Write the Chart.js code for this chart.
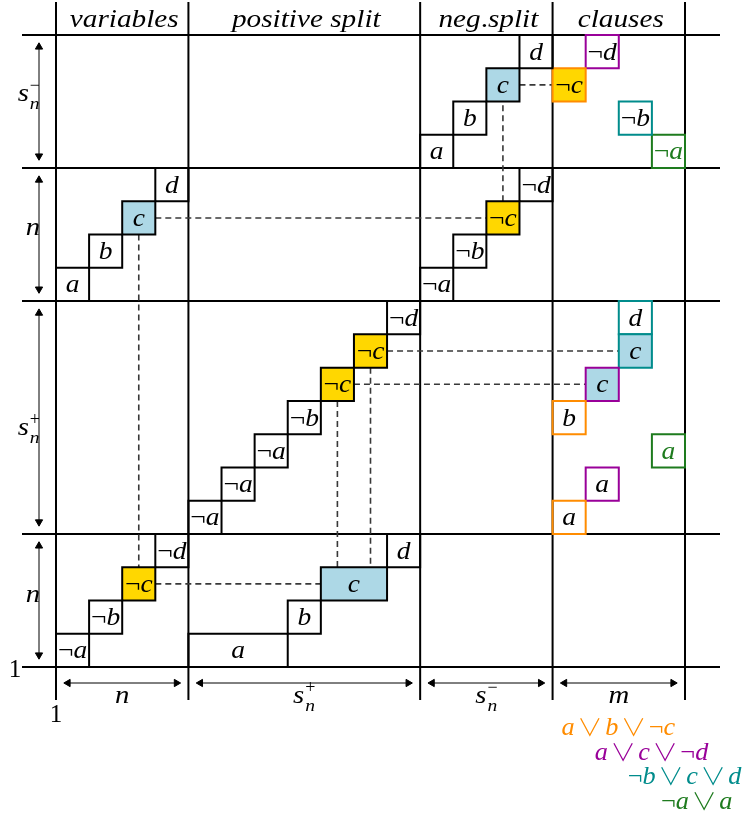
<!DOCTYPE html>
<html>
<head>
<meta charset="utf-8">
<script src="https://cdn.jsdelivr.net/npm/chart.js@4.4.1/dist/chart.umd.min.js"></script>
<style>
html, body { margin: 0; padding: 0; background: #ffffff; }
#wrap { width: 745px; height: 815px; }
</style>
</head>
<body>
<div id="wrap"><canvas id="c" width="745" height="815"></canvas></div>
<script>
// ---------------- data ----------------
const colEdges = [0, 4, 11, 15, 19];
const rowEdges = [0, 4, 11, 15, 19];
const colHeaders = ['variables', 'positive split', 'neg.split', 'clauses'];
const colSizeLabels = [['n', '', ''], ['s', 'n', '+'], ['s', 'n', '−'], ['m', '', '']];
const rowSizeLabels = [['n', '', ''], ['s', 'n', '+'], ['n', '', ''], ['s', 'n', '−']]; // bottom to top

const boxX = [0, 1, 2, 3, 4, 7, 8, 10, 4, 5, 6, 7, 8, 9, 10, 0, 1, 2, 3, 11, 12, 13, 14, 11, 12, 13, 14,
              15, 16, 17, 18, 15, 16, 18, 15, 16, 17, 17];
const boxY = [0, 1, 2, 3, 0, 1, 2, 3, 4, 5, 6, 7, 8, 9, 10, 11, 12, 13, 14, 11, 12, 13, 14, 15, 16, 17, 18,
              17, 18, 16, 15, 4, 5, 6, 7, 8, 9, 10];
const boxW = [1, 1, 1, 1, 3, 1, 2, 1, 1, 1, 1, 1, 1, 1, 1, 1, 1, 1, 1, 1, 1, 1, 1, 1, 1, 1, 1,
              1, 1, 1, 1, 1, 1, 1, 1, 1, 1, 1];
const boxLabel = ['¬a', '¬b', '¬c', '¬d', 'a', 'b', 'c', 'd', '¬a', '¬a', '¬a', '¬b', '¬c', '¬c', '¬d',
                  'a', 'b', 'c', 'd', '¬a', '¬b', '¬c', '¬d', 'a', 'b', 'c', 'd',
                  '¬c', '¬d', '¬b', '¬a', 'a', 'a', 'a', 'b', 'c', 'c', 'd'];
const boxFill = ['', '', 'gold', '', '', '', 'blue', '', '', '', '', '', 'gold', 'gold', '',
                 '', '', 'blue', '', '', '', 'gold', '', '', '', 'blue', '',
                 'gold', '', '', '', '', '', '', '', 'blue', 'blue', ''];
const boxClause = [-1, -1, -1, -1, -1, -1, -1, -1, -1, -1, -1, -1, -1, -1, -1, -1, -1, -1, -1, -1, -1, -1, -1, -1, -1, -1, -1,
                   0, 1, 2, 3, 0, 1, 3, 0, 1, 2, 2];

const clauseTexts = ['a∨b∨¬c', 'a∨c∨¬d', '¬b∨c∨d', '¬a∨a'];

const dashX1 = [3, 2.5, 3, 13.5, 14, 10, 9, 8.5, 9.5];
const dashY1 = [13.5, 13, 2.5, 14, 17.5, 9.5, 8.5, 8, 9];
const dashX2 = [13, 2.5, 8, 13.5, 15, 17, 16, 8.5, 9.5];
const dashY2 = [13.5, 3, 2.5, 17, 17.5, 9.5, 8.5, 3, 3];

// ---------------- styles ----------------
const clauseColors = ['#FF8C00', '#990099', '#008C8C', '#1E7B1E'];
const fillColors = { gold: '#FFD700', blue: '#ADD8E6' };
const FONT = '"Liberation Serif", serif';
const OR_FONT = '"Noto Sans CJK JP", "DejaVu Sans", sans-serif';

// pixel frame: x=0 -> 56px, x=19 -> 685px ; y=0 -> 667px, y=19 -> 35px
const UX = (685 - 56) / 19, UY = (667 - 35) / 19;
const X_MIN = -56 / UX, X_MAX = (745 - 56) / UX;
const Y_MAX = 667 / UY, Y_MIN = -(815 - 667) / UY;

// ---------------- datasets ----------------
const datasets = [];
// grid lines
rowEdges.forEach(r => datasets.push({
  data: [{ x: -34 / UX, y: r }, { x: (720 - 56) / UX, y: r }],
  borderColor: '#000', borderWidth: 2, pointRadius: 0, fill: false, order: 10
}));
colEdges.forEach(c => datasets.push({
  data: [{ x: c, y: 665 / UY }, { x: c, y: -33 / UY }],
  borderColor: '#000', borderWidth: 2, pointRadius: 0, fill: false, order: 10
}));
// size arrows (rows)
for (let i = 0; i < 4; i++) {
  const ax = -17 / UX, ins = 12 / UY;
  datasets.push({
    data: [{ x: ax, y: rowEdges[i] + ins }, { x: ax, y: rowEdges[i + 1] - ins }],
    borderColor: '#000', borderWidth: 1, pointStyle: 'triangle', pointRadius: 4.2,
    pointRotation: [180, 0], pointBackgroundColor: '#000', pointBorderColor: '#000', pointBorderWidth: 1,
    fill: false, order: 10
  });
}
// size arrows (columns)
for (let i = 0; i < 4; i++) {
  const ay = -16 / UY, ins = 12 / UX;
  datasets.push({
    data: [{ x: colEdges[i] + ins, y: ay }, { x: colEdges[i + 1] - ins, y: ay }],
    borderColor: '#000', borderWidth: 1, pointStyle: 'triangle', pointRadius: 4.2,
    pointRotation: [270, 90], pointBackgroundColor: '#000', pointBorderColor: '#000', pointBorderWidth: 1,
    fill: false, order: 10
  });
}
// dashed connectors
for (let i = 0; i < dashX1.length; i++) {
  datasets.push({
    data: [{ x: dashX1[i], y: dashY1[i] }, { x: dashX2[i], y: dashY2[i] }],
    borderColor: '#383838', borderWidth: 1.6, borderDash: [6, 4], pointRadius: 0, fill: false, order: 5
  });
}
// boxes
for (let i = 0; i < boxX.length; i++) {
  const x0 = boxX[i], x1 = boxX[i] + boxW[i], y0 = boxY[i], y1 = boxY[i] + 1;
  const filled = boxFill[i] !== '';
  datasets.push({
    data: [{ x: x0, y: y0 }, { x: x1, y: y0 }, { x: x1, y: y1 }, { x: x0, y: y1 }, { x: x0, y: y0 }],
    borderColor: boxClause[i] >= 0 ? clauseColors[boxClause[i]] : '#000',
    borderWidth: 2, borderJoinStyle: 'miter', borderCapStyle: 'square',
    backgroundColor: filled ? fillColors[boxFill[i]] : 'transparent',
    fill: filled ? 'shape' : false, pointRadius: 0, order: 1
  });
}

// ---------------- text helpers ----------------
const OR_SLOT = 29; // advance of a binary "or" operator (px, before stretch)
function runs(str) {
  return Array.from(str).map(ch => ({ ch, it: /[a-z]/.test(ch), op: ch === '∨' }));
}
function fontFor(r, size) {
  if (r.op) return '300 ' + Math.round(size * 0.95) + 'px ' + OR_FONT;
  return (r.it ? 'italic ' : '') + size + 'px ' + FONT;
}
function adv(ctx, r, size) {
  if (r.op) return OR_SLOT;
  ctx.font = fontFor(r, size);
  return ctx.measureText(r.ch).width;
}
function measureMath(ctx, str, size, sx) {
  let w = 0;
  for (const r of runs(str)) w += adv(ctx, r, size);
  return w * sx;
}
function drawMath(ctx, str, left, base, size, color, sx) {
  ctx.save();
  ctx.translate(left, base);
  ctx.scale(sx, 1);
  ctx.fillStyle = color;
  ctx.textBaseline = 'alphabetic';
  let cx = 0;
  for (const r of runs(str)) {
    const a = adv(ctx, r, size);
    ctx.font = fontFor(r, size);
    if (r.op) {
      ctx.textAlign = 'center';
      ctx.fillText(r.ch, cx + a / 2, 1);
    } else {
      ctx.textAlign = 'left';
      ctx.fillText(r.ch, cx, 0);
    }
    cx += a;
  }
  ctx.restore();
}
function drawSized(ctx, parts, anchor, base, align) {
  const [main, sub, sup] = parts;
  const mw = measureMath(ctx, main, 25, 1.15);
  const sw = Math.max(sub ? measureMath(ctx, sub, 17, 1.15) : 0, sup ? measureMath(ctx, sup, 18, 1.0) : 0);
  const total = mw + (sw ? sw + 1 : 0);
  const left = align === 'right' ? anchor - total : anchor - total / 2;
  drawMath(ctx, main, left, base, 25, '#000', 1.15);
  if (sub) drawMath(ctx, sub, left + mw + 1, base + 8, 17, '#000', 1.15);
  if (sup) drawMath(ctx, sup, left + mw + 1, base - 10, 18, '#000', 1.0);
}

const textPlugin = {
  id: 'diagramText',
  afterDatasetsDraw(chart) {
    const ctx = chart.ctx;
    const X = v => chart.scales.x.getPixelForValue(v);
    const Y = v => chart.scales.y.getPixelForValue(v);
    // box labels
    for (let i = 0; i < boxX.length; i++) {
      const cx = X(boxX[i] + boxW[i] / 2), cy = Y(boxY[i] + 0.5);
      const color = boxClause[i] === 3 ? clauseColors[3] : '#000';
      const w = measureMath(ctx, boxLabel[i], 25, 1.1);
      drawMath(ctx, boxLabel[i], cx - w / 2, cy + 8, 25, color, 1.1);
    }
    // headers
    for (let i = 0; i < 4; i++) {
      const cx = X((colEdges[i] + colEdges[i + 1]) / 2) + 2;
      const w = measureMath(ctx, colHeaders[i], 25, 1.17);
      drawMath(ctx, colHeaders[i], cx - w / 2, 27, 25, '#000', 1.17);
    }
    // row size labels
    const rowOff = [1.5, 17, 0.5, -0.5];
    for (let i = 0; i < 4; i++) {
      const cy = Y((rowEdges[i] + rowEdges[i + 1]) / 2) + rowOff[i];
      drawSized(ctx, rowSizeLabels[i], 40, cy, 'right');
    }
    // column size labels
    for (let i = 0; i < 4; i++) {
      const cx = X((colEdges[i] + colEdges[i + 1]) / 2);
      drawSized(ctx, colSizeLabels[i], cx, Y(0) + 36, 'center');
    }
    // origin "1" labels
    ctx.save();
    ctx.fillStyle = '#000';
    ctx.font = '25px ' + FONT;
    ctx.textAlign = 'center';
    ctx.textBaseline = 'alphabetic';
    ctx.fillText('1', 15, Y(0) + 10);
    ctx.fillText('1', X(0), Y(0) + 55);
    ctx.restore();
    // clause legend
    for (let i = 0; i < clauseTexts.length; i++) {
      const left = X(colEdges[3] + i) + 9;
      const base = Y(0) + 68 + i * 24.7;
      drawMath(ctx, clauseTexts[i], left, base, 25, clauseColors[i], 1.05);
    }
  }
};

new Chart(document.getElementById('c'), {
  type: 'line',
  data: { datasets },
  options: {
    responsive: false,
    animation: false,
    devicePixelRatio: 1,
    events: [],
    layout: { padding: 0, autoPadding: false },
    scales: {
      x: { type: 'linear', min: X_MIN, max: X_MAX, display: false },
      y: { type: 'linear', min: Y_MIN, max: Y_MAX, display: false }
    },
    elements: { line: { tension: 0 } },
    plugins: {
      legend: { display: false },
      tooltip: { enabled: false },
      filler: { propagate: false }
    }
  },
  plugins: [textPlugin]
});
</script>
</body>
</html>
